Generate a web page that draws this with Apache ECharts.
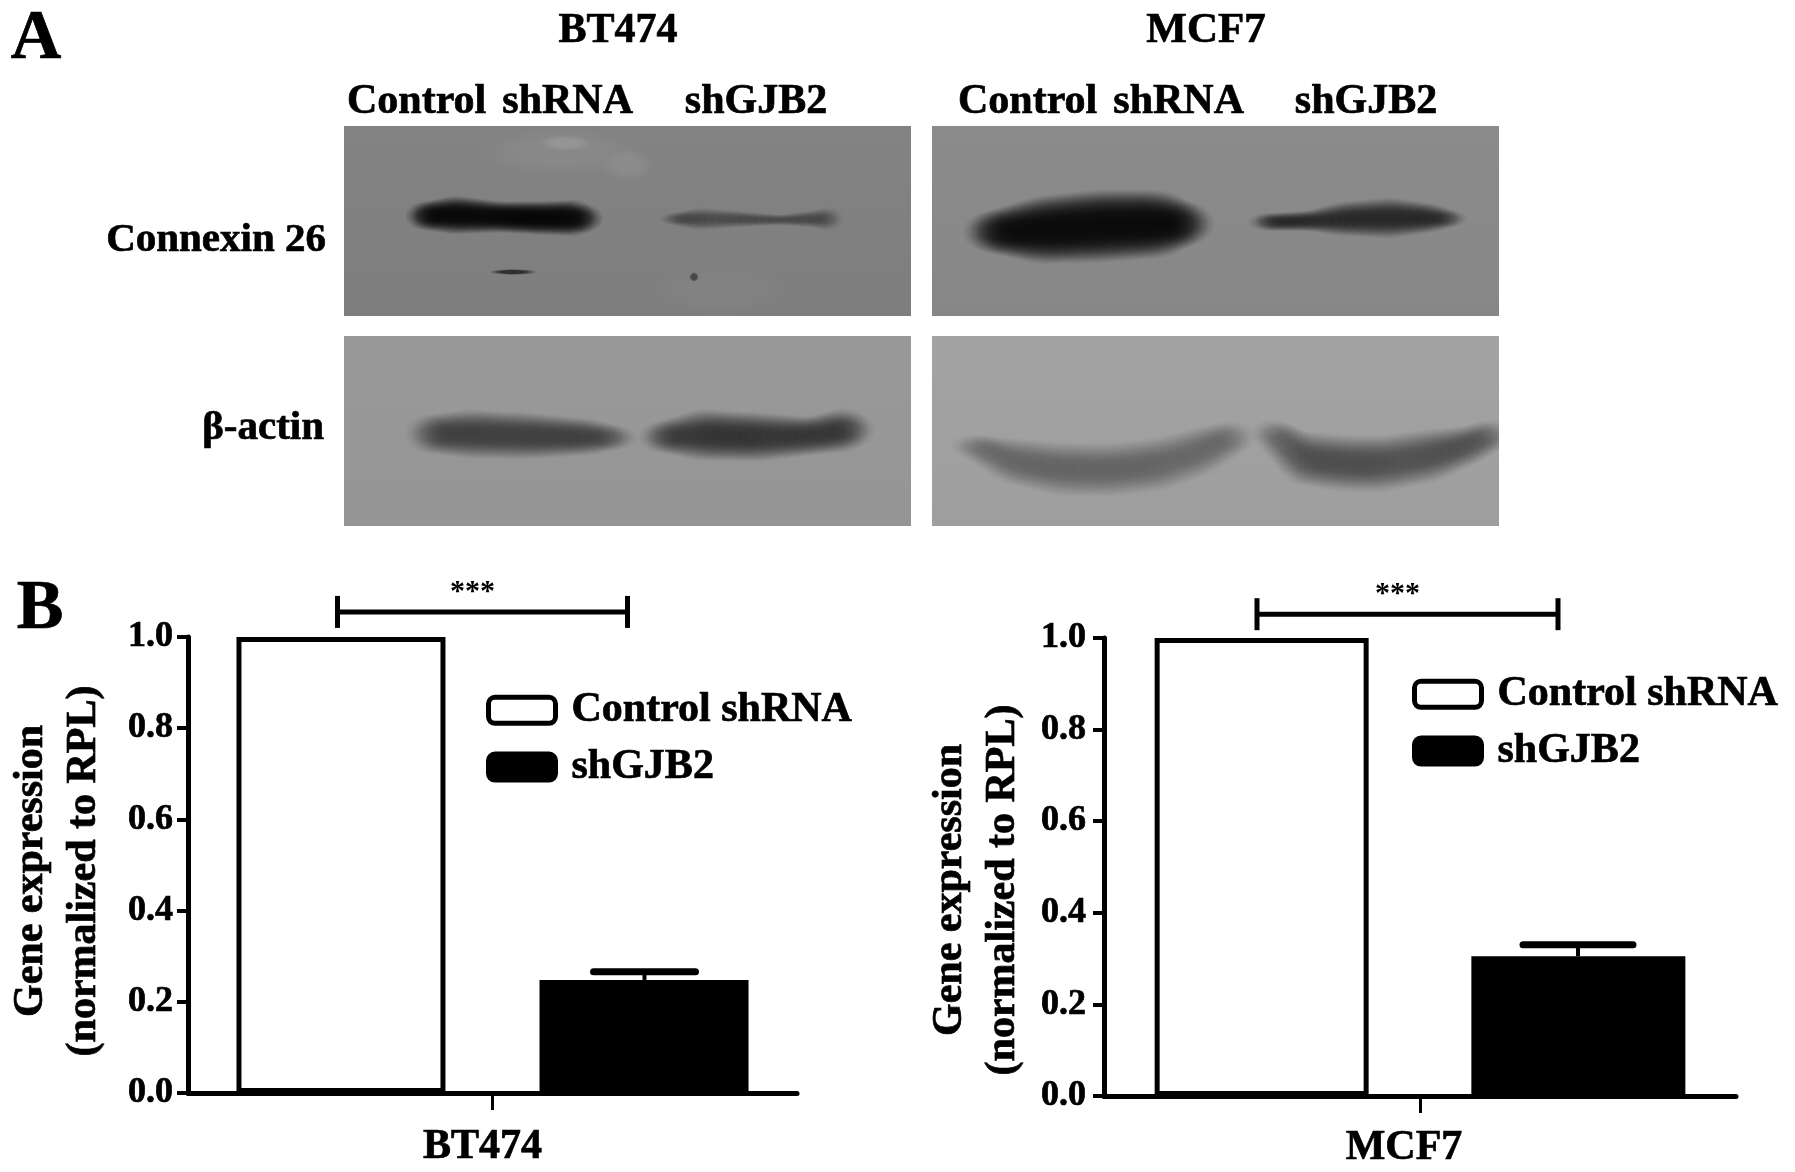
<!DOCTYPE html>
<html>
<head>
<meta charset="utf-8">
<style>
html,body{margin:0;padding:0;background:#fff}
#c{width:1795px;height:1172px;filter:blur(0.7px)}
</style>
<script src="https://cdn.jsdelivr.net/npm/echarts@6/dist/echarts.min.js"></script>
</head>
<body>
<div id="c"></div>
<script>
// ---- Data ----
const seriesNames = ['Control shRNA', 'shGJB2'];
const yTicks = [0, 0.2, 0.4, 0.6, 0.8, 1.0];
const yAxisTitle = 'Gene expression\n(normalized to RPL)';

const categoriesBT474 = ['BT474'];
const controlBT474 = [1.0];
const shGJB2BT474 = [0.248];
const errTopBT474 = [0.266];
const bracketBT474 = [1.055];

const categoriesMCF7 = ['MCF7'];
const controlMCF7 = [1.0];
const shGJB2MCF7 = [0.305];
const errTopMCF7 = [0.33];
const bracketMCF7 = [1.052];

const SERIF = '"Liberation Serif","Times New Roman",serif';
const INK = '#000';
const BOLD = 0.7;

// ---- Blot picture helpers (decorative image content, not chart data) ----
function soft(cx, cy, rx, ry, v, a, inner) {
  const c = (al) => `rgba(${v},${v},${v},${al})`;
  return {
    type: 'circle', silent: true, x: cx, y: cy, scaleX: rx / 10, scaleY: ry / 10,
    shape: { cx: 0, cy: 0, r: 10 },
    style: { fill: { type: 'radial', x: 0.5, y: 0.5, r: 0.5, colorStops: [
      { offset: 0, color: c(a) }, { offset: inner === undefined ? 0.5 : inner, color: c(a) }, { offset: 1, color: c(0) }
    ] } }
  };
}
// A soft band drawn as many faint overlapping ellipses along a centre line [x, y, halfThickness]
function band(line, rx, v, a) {
  const out = [];
  for (let i = 0; i < line.length - 1; i++) {
    const [x0, y0, t0] = line[i], [x1, y1, t1] = line[i + 1];
    const steps = Math.max(1, Math.round((x1 - x0) / 7));
    for (let s = 0; s < steps; s++) {
      const k = s / steps;
      out.push(soft(x0 + (x1 - x0) * k, y0 + (y1 - y0) * k, rx, (t0 + (t1 - t0) * k) * 1.35, v, a, 0.35));
    }
  }
  return out;
}
function panel(x, y, w, h, top, bottom) {
  return { type: 'rect', silent: true, shape: { x, y, width: w, height: h },
    style: { fill: { type: 'linear', x: 0, y: 0, x2: 0, y2: 1, colorStops: [{ offset: 0, color: top }, { offset: 1, color: bottom }] } } };
}
function label(text, x, y, size, align) {
  return { type: 'text', x, y, silent: true,
    style: { text, fill: INK, stroke: INK, lineWidth: BOLD, font: `bold ${size}px ${SERIF}`, align: align || 'center', verticalAlign: 'middle' } };
}

const blot = [
  panel(344, 126, 567, 190, '#838383', '#7e7e7e'),
  panel(932, 126, 567, 190, '#8b8b8b', '#878787'),
  panel(344, 336, 567, 190, '#999999', '#959595'),
  panel(932, 336, 567, 190, '#a3a3a3', '#9e9e9e'),

  // smudges on the BT474 Connexin panel
  soft(560, 152, 80, 24, 150, 0.3),
  soft(565, 143, 26, 8, 170, 0.35),
  soft(628, 165, 26, 16, 160, 0.3),
  soft(720, 290, 70, 24, 150, 0.15),

  // BT474 Connexin 26
  ...band([[425,216,11],[455,215,15],[500,217,12],[540,218,13],[575,218,14],[592,219,8]], 20, 0, 0.55),
  ...band([[675,219,5],[700,219,9],[730,219,7],[780,220,4],[815,219,7],[828,219,9],[836,220,5]], 16, 30, 0.24),
  soft(513, 272, 24, 3, 20, 0.75),
  soft(694, 277, 5, 5, 30, 0.6),

  // BT474 beta-actin
  ...band([[430,434,15],[470,434,19],[530,436,18],[590,437,14],[620,438,8]], 26, 30, 0.22),
  ...band([[662,437,12],[700,435,20],[760,437,19],[810,436,15],[845,430,17],[858,430,10]], 24, 20, 0.26),

  // MCF7 Connexin 26
  ...band([[992,232,16],[1040,230,26],[1100,226,28],[1160,224,26],[1192,224,14]], 30, 0, 0.36),
  ...band([[1268,222,7],[1310,221,8],[1340,219,13],[1390,218,16],[1432,218,11],[1455,219,5]], 20, 10, 0.32),

  // MCF7 beta-actin: curved bands
  ...band([[974,446,9],[1010,461,18],[1060,469,21],[1110,470,21],[1160,464,21],[1205,450,19],[1240,434,11]], 24, 50, 0.16),
  ...band([[1274,434,11],[1300,458,21],[1340,463,22],[1380,464,22],[1430,456,21],[1470,445,15],[1497,432,11]], 24, 30, 0.19),
  { type: 'rect', silent: true, shape: { x: 1499, y: 336, width: 30, height: 190 }, style: { fill: '#fff' } }
];

const texts = [
  label('A', 36, 40, 70),
  label('B', 40, 610, 70),
  label('BT474', 618, 31, 42),
  label('MCF7', 1206, 31, 43),
  label('Control', 347, 102, 42, 'left'),
  label('shRNA', 633, 102, 42, 'right'),
  label('shGJB2', 756, 102, 42),
  label('Control', 958, 102, 42, 'left'),
  label('shRNA', 1244, 102, 42, 'right'),
  label('shGJB2', 1366, 102, 42),
  label('Connexin 26', 326, 240, 41, 'right'),
  label('\u03B2-actin', 324, 428, 41, 'right')
];

// ---- Custom marks placed through the chart's scale ----
function errorBars(offset, capHalf, yAxisIndex, xAxisIndex, top, base) {
  return {
    type: 'custom', xAxisIndex, yAxisIndex, silent: true, z: 5,
    data: top.map((v, i) => [i, base[i], v]),
    encode: { x: 0, y: [1, 2] },
    renderItem(params, api) {
      const a = api.coord([api.value(0), api.value(1)]);
      const b = api.coord([api.value(0), api.value(2)]);
      const x = a[0] + offset;
      return { type: 'group', children: [
        { type: 'line', shape: { x1: x, y1: a[1], x2: x, y2: b[1] }, style: { stroke: INK, lineWidth: 4 } },
        { type: 'line', shape: { x1: x - capHalf, y1: b[1], x2: x + capHalf, y2: b[1] }, style: { stroke: INK, lineWidth: 7, lineCap: 'round' } }
      ] };
    }
  };
}
function bracket(offL, offR, idx, levels) {
  return {
    type: 'custom', xAxisIndex: idx, yAxisIndex: idx, silent: true, z: 5, clip: false,
    data: levels.map((v, i) => [i, v]),
    encode: { x: 0, y: 1 },
    renderItem(params, api) {
      const p = api.coord([api.value(0), api.value(1)]);
      const l = p[0] + offL, r = p[0] + offR, y = p[1];
      return { type: 'group', children: [
        { type: 'line', shape: { x1: l, y1: y, x2: r, y2: y }, style: { stroke: INK, lineWidth: 5 } },
        { type: 'line', shape: { x1: l, y1: y - 16, x2: l, y2: y + 16 }, style: { stroke: INK, lineWidth: 5 } },
        { type: 'line', shape: { x1: r, y1: y - 16, x2: r, y2: y + 16 }, style: { stroke: INK, lineWidth: 5 } },
        { type: 'text', x: (l + r) / 2 - 10, y: y - 20, style: { text: '***', fill: INK, font: `bold 30px ${SERIF}`, align: 'center', verticalAlign: 'middle' } }
      ] };
    }
  };
}
function bars(idx, control, sh, width, gap) {
  const common = { type: 'bar', xAxisIndex: idx, yAxisIndex: idx, barWidth: width, barGap: gap, z: 3 };
  return [
    { ...common, name: seriesNames[0], data: control, itemStyle: { color: '#fff', borderColor: INK, borderWidth: 5 } },
    { ...common, name: seriesNames[1], data: sh, itemStyle: { color: INK, borderColor: INK, borderWidth: 5 } }
  ];
}
function xAxis(idx, cats, margin, shift) {
  return {
    type: 'category', gridIndex: idx, data: cats,
    axisLine: { lineStyle: { color: INK, width: 5 } },
    axisTick: { show: true, alignWithLabel: true, interval: 0, customValues: [0], length: 17, lineStyle: { color: INK, width: 3 } },
    axisLabel: { color: INK, fontFamily: SERIF, fontWeight: 'bold', fontSize: 42, margin, padding: [0, shift, 0, 0], textBorderColor: INK, textBorderWidth: BOLD }
  };
}
function yAxis(idx, gap, shift, margin) {
  return {
    type: 'value', gridIndex: idx, min: yTicks[0], max: yTicks[yTicks.length - 1], interval: 0.2,
    name: yAxisTitle, nameLocation: 'middle', nameRotate: 90, nameGap: gap,
    nameTextStyle: { color: INK, fontFamily: SERIF, fontWeight: 'bold', fontSize: 42, lineHeight: 53, padding: [0, shift, 0, 0], textBorderColor: INK, textBorderWidth: BOLD },
    splitLine: { show: false },
    axisLine: { show: true, lineStyle: { color: INK, width: 5 } },
    axisTick: { show: true, length: 11, lineStyle: { color: INK, width: 4 } },
    axisLabel: { color: INK, fontFamily: SERIF, fontWeight: 'bold', fontSize: 36, margin, textBorderColor: INK, textBorderWidth: BOLD, formatter: (v) => v.toFixed(1) }
  };
}
function legend(left, top, gap) {
  return {
    orient: 'vertical', left, top, padding: 0, itemGap: gap, itemWidth: 67, itemHeight: 26, icon: 'roundRect',
    selectedMode: false, data: seriesNames,
    itemStyle: { borderColor: INK, borderWidth: 5 },
    textStyle: { color: INK, fontFamily: SERIF, fontWeight: 'bold', fontSize: 42, padding: [0, 0, 0, 11], lineHeight: 24, textBorderColor: INK, textBorderWidth: BOLD }
  };
}

const chart = echarts.init(document.getElementById('c'), null, { renderer: 'canvas' });
chart.setOption({
  animation: false,
  backgroundColor: '#fff',
  grid: [
    { left: 188, top: 637, width: 609, height: 456 },
    { left: 1104, top: 638, width: 632, height: 458 }
  ],
  xAxis: [xAxis(0, categoriesBT474, 33, 20), xAxis(1, categoriesMCF7, 31, 32)],
  yAxis: [yAxis(0, 77, 12, 15), yAxis(1, 74, 46, 18)],
  legend: [legend(486, 689, 14), legend(1412, 673, 14)],
  graphic: { elements: [...blot, ...texts] },
  series: [
    ...bars(0, controlBT474, shGJB2BT474, 209, '45%'),
    errorBars(152, 51, 0, 0, errTopBT474, shGJB2BT474),
    bracket(-155, 135, 0, bracketBT474),
    ...bars(1, controlMCF7, shGJB2MCF7, 214, '48%'),
    errorBars(158, 55, 1, 1, errTopMCF7, shGJB2MCF7),
    bracket(-163, 138, 1, bracketMCF7)
  ]
});
</script>
</body>
</html>
